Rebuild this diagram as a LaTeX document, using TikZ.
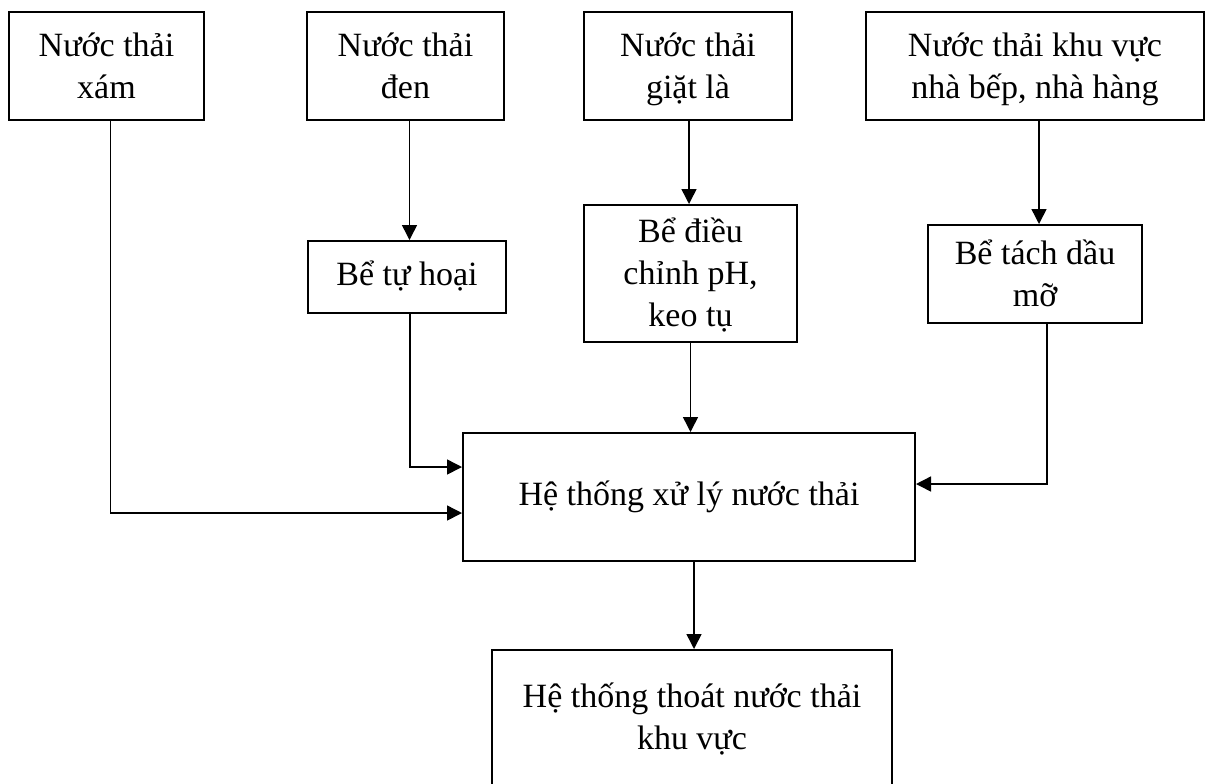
\documentclass[tikz,border=0pt]{standalone}
\usepackage{fontspec}
\setmainfont{Liberation Serif}
\usetikzlibrary{arrows.meta,calc}
\newcommand{\topstrutx}{\rule{0pt}{17.7pt}}
\begin{document}
\begin{tikzpicture}[x=0.5pt,y=-0.5pt,
  box/.style={draw=black,line width=1pt,rectangle,inner sep=0pt,align=center,
    font=\fontsize{17pt}{21pt}\selectfont},
  conn/.style={draw=black,line width=0.75pt,-{Triangle[length=7.5pt,width=7.5pt]}}]
\useasboundingbox (0,0) rectangle (1208,783);
\node[box,minimum width=195pt*0.5,minimum height=108pt*0.5] (box1) at (106.5,66) {\topstrutx Nước thải\\xám\strut};
\node[box,minimum width=197pt*0.5,minimum height=108pt*0.5] (box2) at (405.5,66) {\topstrutx Nước thải\\đen\strut};
\node[box,minimum width=208pt*0.5,minimum height=108pt*0.5] (box3) at (688,66) {\topstrutx Nước thải\\giặt là\strut};
\node[box,minimum width=338pt*0.5,minimum height=108pt*0.5] (box4) at (1035,66) {\topstrutx Nước thải khu vực\\nhà bếp, nhà hàng\strut};
\node[box,minimum width=198pt*0.5,minimum height=72pt*0.5] (tuhoai) at (407,277) {\strut Bể tự hoại};
\node[box,minimum width=213pt*0.5,minimum height=137pt*0.5] (dieuchinh) at (690.5,273.5) {\topstrutx Bể điều\\chỉnh pH,\\keo tụ\strut};
\node[box,minimum width=214pt*0.5,minimum height=98pt*0.5] (tachdau) at (1035,274) {\topstrutx Bể tách dầu\\mỡ\strut};
\node[box,minimum width=452pt*0.5,minimum height=128pt*0.5] (xuly) at (689,497) {\strut Hệ thống xử lý nước thải};
\node[box,minimum width=400pt*0.5,minimum height=140pt*0.5] (final) at (692,720) {\strut Hệ thống thoát nước thải\\khu vực\strut};
% connectors
\draw[conn] ($(box1.south)+(4,0)$) |- ($(xuly.west)+(0,16)$);
\draw[conn] ($(box2.south)+(4,0)$) -- ($(tuhoai.north)+(2.5,0)$);
\draw[conn] ($(tuhoai.south)+(3,0)$) |- ($(xuly.west)+(0,-30)$);
\draw[conn] ($(box3.south)+(1,0)$) -- ($(dieuchinh.north)+(-1.5,0)$);
\draw[conn] (dieuchinh.south) -- (dieuchinh.south |- xuly.north);
\draw[conn] ($(box4.south)+(4,0)$) -- ($(tachdau.north)+(4,0)$);
\draw[conn] ($(tachdau.south)+(12,0)$) |- ($(xuly.east)+(0,-13)$);
\draw[conn] ($(xuly.south)+(5,0)$) -- ($(final.north)+(2,0)$);
\end{tikzpicture}
\end{document}
